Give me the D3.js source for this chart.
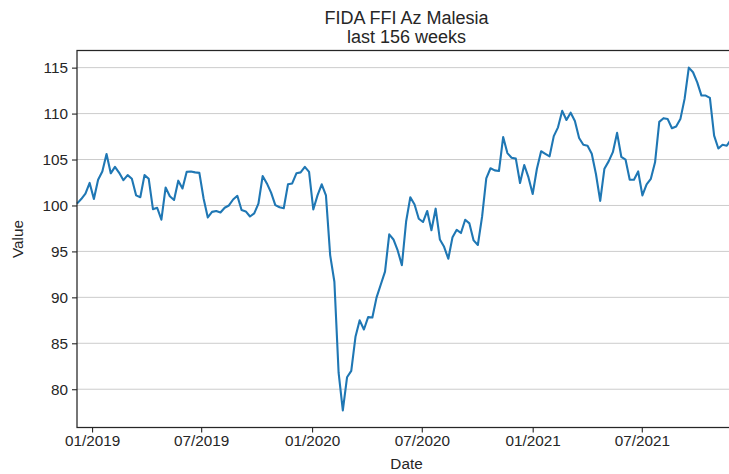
<!DOCTYPE html>
<html>
<head>
<meta charset="utf-8">
<script src="https://cdn.jsdelivr.net/npm/d3@7"></script>
<style>
  body { margin: 0; background: #fff; }
  svg { display: block; font-family: "Liberation Sans", Arial, sans-serif; }
</style>
</head>
<body>
<svg class="theSvg" width="729" height="474"></svg>
<script>
// weekly values, first week 2018-12-07
var startDate = "2018-12-07";
var values = [
  100.2, 100.7, 101.3, 102.45, 100.7, 102.8, 103.7, 105.6, 103.5, 104.2,
  103.55, 102.75, 103.3, 102.9, 101.1, 100.9, 103.3, 102.9, 99.6, 99.75,
  98.45, 101.95, 101.0, 100.6, 102.7, 101.85, 103.66, 103.7, 103.6, 103.55,
  100.76, 98.7, 99.3, 99.4, 99.24, 99.75, 100.0, 100.65, 101.05, 99.5,
  99.35, 98.8, 99.13, 100.2, 103.2, 102.4, 101.4, 100.04, 99.8, 99.7,
  102.3, 102.4, 103.5, 103.6, 104.2, 103.66, 99.56, 101.1, 102.3, 101.1,
  94.6, 91.7, 81.8, 77.7, 81.3, 82.0, 85.7, 87.5, 86.5, 87.85,
  87.8, 90.0, 91.4, 92.8, 96.85, 96.3, 95.1, 93.5, 98.25, 100.9,
  100.1, 98.55, 98.2, 99.4, 97.3, 99.65, 96.3, 95.5, 94.2, 96.55,
  97.35, 97.0, 98.45, 98.05, 96.2, 95.7, 98.75, 102.95, 104.05, 103.82,
  103.75, 107.45, 105.7, 105.2, 105.1, 102.45, 104.4, 103.05, 101.25, 104.0,
  105.9, 105.62, 105.35, 107.55, 108.5, 110.3, 109.3, 110.1, 109.2, 107.35,
  106.6, 106.5, 105.62, 103.4, 100.5, 104.0, 104.8, 105.8, 107.9, 105.3,
  105.0, 102.8, 102.8, 103.7, 101.1, 102.3, 102.9, 104.7, 109.1, 109.5,
  109.4, 108.4, 108.6, 109.4, 111.6, 115.0, 114.5, 113.4, 111.96, 111.96,
  111.7, 107.6, 106.2, 106.6, 106.5, 107.2
];
var yTicks = [80, 85, 90, 95, 100, 105, 110, 115];
var xTickDates = ["2019-01-01", "2019-07-01", "2020-01-01", "2020-07-01", "2021-01-01", "2021-07-01"];
var titleLines = ["FIDA FFI Az Malesia", "last 156 weeks"];

var parseDate = d3.timeParse("%Y-%m-%d");
var t0 = parseDate(startDate);
var data = values.map(function(v, i){ return {date: d3.timeDay.offset(t0, i * 7), value: v}; });

var margins = {"left": 77, "top": 50.5, "right": 736, "bottom": 427.5};
var textColor = "#262626";
var tickFont = "15.3px";

var x = d3.scaleTime()
  .domain(d3.extent(data, function(d){ return d.date; }))
  .range([margins.left, 731]);

var yMin = d3.min(values), yMax = d3.max(values);
var pad = (yMax - yMin) * 0.05;
var y = d3.scaleLinear()
  .domain([yMin - pad, yMax + pad])
  .range([margins.bottom, margins.top]);

var theSvg = d3.select(".theSvg");

// grid
theSvg.append("g")
  .selectAll("line")
  .data(yTicks)
  .enter()
  .append("line")
  .attr("x1", margins.left)
  .attr("x2", margins.right)
  .attr("y1", function(d){ return y(d); })
  .attr("y2", function(d){ return y(d); })
  .attr("stroke", "#cccccc")
  .attr("stroke-width", 1);

// the line
theSvg.append("path")
  .datum(data)
  .attr("fill", "none")
  .attr("stroke", "#1f77b4")
  .attr("stroke-width", 2.1)
  .attr("stroke-linejoin", "round")
  .attr("d", d3.line()
    .x(function(d){ return x(d.date); })
    .y(function(d){ return y(d.value); }));

// axes
var yAxis = theSvg.append("g")
  .attr("transform", "translate(" + margins.left + ",0)")
  .call(d3.axisLeft(y).tickValues(yTicks).tickSize(5).tickPadding(4).tickFormat(d3.format("d")));

var xAxis = theSvg.append("g")
  .attr("transform", "translate(0," + margins.bottom + ")")
  .call(d3.axisBottom(x).tickValues(xTickDates.map(parseDate)).tickSize(5).tickPadding(3).tickFormat(d3.timeFormat("%m/%Y")));

[xAxis, yAxis].forEach(function(ax){
  ax.select(".domain").remove();
  ax.selectAll("line").attr("stroke", textColor).attr("stroke-width", 1.1);
  ax.selectAll("text")
    .attr("fill", textColor)
    .attr("font-size", tickFont)
    .attr("font-family", "Liberation Sans, Arial, sans-serif");
});

// spines
theSvg.append("rect")
  .attr("x", margins.left)
  .attr("y", margins.top)
  .attr("width", margins.right - margins.left)
  .attr("height", margins.bottom - margins.top)
  .attr("fill", "none")
  .attr("stroke", textColor)
  .attr("stroke-width", 1.25);

// labels
theSvg.append("text")
  .attr("x", (margins.left + margins.right) / 2)
  .attr("y", 469)
  .attr("text-anchor", "middle")
  .attr("font-size", tickFont)
  .attr("fill", textColor)
  .text("Date");

theSvg.append("text")
  .attr("transform", "translate(23," + ((margins.top + margins.bottom) / 2) + ") rotate(-90)")
  .attr("text-anchor", "middle")
  .attr("font-size", tickFont)
  .attr("fill", textColor)
  .text("Value");

theSvg.append("g")
  .selectAll("text")
  .data(titleLines)
  .enter()
  .append("text")
  .attr("x", (margins.left + margins.right) / 2)
  .attr("y", function(d, i){ return 24 + i * 18.5; })
  .attr("text-anchor", "middle")
  .attr("font-size", "18px")
  .attr("fill", textColor)
  .text(function(d){ return d; });
</script>
</body>
</html>
